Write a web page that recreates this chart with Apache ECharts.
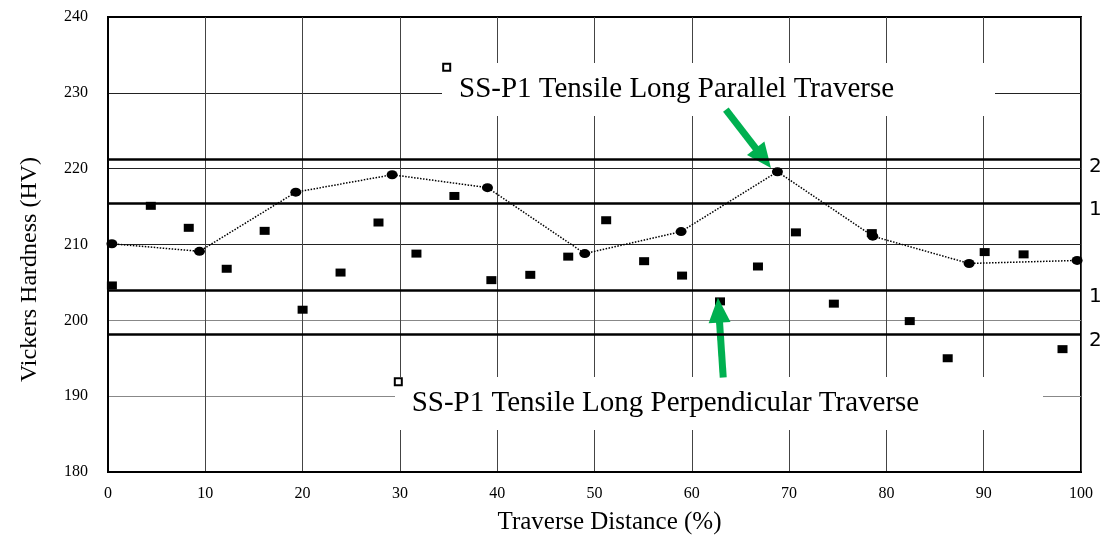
<!DOCTYPE html>
<html>
<head>
<meta charset="utf-8">
<script src="https://cdn.jsdelivr.net/npm/echarts@6/dist/echarts.min.js"></script>
<style>html,body{margin:0;padding:0;background:#fff;}#chart{width:1103px;height:540px;}</style>
</head>
<body>
<div id="chart"></div>
<script>
// Parallel traverse (circles, dotted line)
const parallelX = [0.4, 9.4, 19.3, 29.2, 39.0, 49.0, 58.9, 68.8, 78.6, 88.5, 99.6];
const parallelY = [210.1, 209.1, 216.9, 219.2, 217.5, 208.8, 211.7, 219.6, 211.1, 207.5, 207.9];
// Perpendicular traverse (squares)
const perpX = [0.4, 4.4, 8.3, 12.2, 16.1, 20.0, 23.9, 27.8, 31.7, 35.6, 39.4, 43.4, 47.3, 51.2, 55.1, 59.0, 62.9, 66.8, 70.7, 74.6, 78.5, 82.4, 86.3, 90.1, 94.1, 98.1];
const perpY = [204.6, 215.1, 212.2, 206.8, 211.8, 201.4, 206.3, 212.9, 208.8, 216.4, 205.3, 206.0, 208.4, 213.2, 207.8, 205.9, 202.5, 207.1, 211.6, 202.2, 211.5, 199.9, 195.0, 209.0, 208.7, 196.2];
// Standard deviation bands
const sigmaLevels = [221.2, 215.5, 204.0, 198.2];
const sigmaLabels = ['2', '1', '1', '2'];
// Axis ticks
const xTicks = [0, 10, 20, 30, 40, 50, 60, 70, 80, 90, 100];
const yTicks = [180, 190, 200, 210, 220, 230, 240];
// Annotation arrows (data coords): [tail, head]
const arrowParallel = [[63.5, 227.8], [67.35, 221.4]];
const arrowPerp = [[63.23, 192.46], [62.77, 201.34]];
const legendParallel = 'SS-P1 Tensile Long Parallel Traverse';
const legendPerp = 'SS-P1 Tensile Long Perpendicular Traverse';

const serif = '"Liberation Serif", "Times New Roman", serif';
const chart = echarts.init(document.getElementById('chart'));

const arrowStyle = {color: '#00B050', width: 7, type: 'solid', opacity: 1};

chart.setOption({
  animation: false,
  backgroundColor: '#fff',
  grid: {left: 108, right: 22, top: 17, bottom: 67, show: true, borderColor: '#000', borderWidth: 2, backgroundColor: 'transparent'},
  xAxis: {
    type: 'value', min: xTicks[0], max: xTicks[xTicks.length - 1], interval: 10,
    name: 'Traverse Distance (%)', nameLocation: 'middle', nameGap: 38,
    nameTextStyle: {fontFamily: serif, fontSize: 25, color: '#000', padding: [0, 0, 0, 30]},
    axisLine: {show: true, lineStyle: {color: '#000', width: 2}},
    axisTick: {show: false},
    axisLabel: {fontFamily: serif, fontSize: 16, color: '#000', margin: 14},
    splitLine: {show: true, lineStyle: {color: '#444', width: 1}}
  },
  yAxis: {
    type: 'value', min: yTicks[0], max: yTicks[yTicks.length - 1], interval: 10,
    name: 'Vickers Hardness (HV)', nameLocation: 'middle', nameRotate: 90, nameGap: 66,
    nameTextStyle: {fontFamily: serif, fontSize: 24, color: '#000', padding: [0, 50, 0, 0]},
    axisLine: {show: true, lineStyle: {color: '#000', width: 2}},
    axisTick: {show: false},
    axisLabel: {fontFamily: serif, fontSize: 16, color: '#000', margin: 20},
    splitLine: {show: true, lineStyle: {color: ['#000', '#888', '#888', '#222', '#222', '#222', '#000'], width: 1}}
  },
  series: [
    {
      name: legendParallel,
      type: 'line',
      data: parallelX.map((x, i) => [x, parallelY[i]]),
      symbol: 'circle', symbolSize: [11, 9],
      itemStyle: {color: '#000', opacity: 1},
      lineStyle: {color: '#000', width: 1.5, type: 'dotted'},
      z: 3,
      markLine: {
        silent: true, animation: false,
        symbol: ['none', 'triangle'],
        symbolSize: [22, 25],
        label: {show: false},
        itemStyle: {color: '#00B050'},
        lineStyle: arrowStyle,
        data: [
          [{coord: arrowParallel[0]}, {coord: arrowParallel[1]}],
          [{coord: arrowPerp[0]}, {coord: arrowPerp[1]}]
        ]
      }
    },
    {
      name: legendPerp,
      type: 'scatter',
      data: perpX.map((x, i) => [x, perpY[i]]),
      symbol: 'rect', symbolSize: [10, 8],
      itemStyle: {color: '#000', opacity: 1},
      z: 3,
      markLine: {
        silent: true, animation: false,
        symbol: ['none', 'none'],
        lineStyle: {color: '#000', width: 2.5, type: 'solid'},
        label: {show: true, position: 'end', distance: 8, color: '#000', fontFamily: '"DejaVu Sans", sans-serif', fontSize: 20, verticalAlign: 'top', lineHeight: 14},
        data: sigmaLevels.map((v, i) => ({yAxis: v, label: {formatter: sigmaLabels[i]}}))
      }
    }
  ],
  graphic: [
    {type: 'rect', z: 1, shape: {x: 442, y: 63, width: 553, height: 53}, style: {fill: '#fff'}},
    {type: 'rect', z: 1, shape: {x: 443.2, y: 63.8, width: 7, height: 7}, style: {fill: '#fff', stroke: '#000', lineWidth: 2}},
    {type: 'text', z: 1, x: 459, y: 89, style: {text: legendParallel, font: '29px ' + serif, fill: '#000', verticalAlign: 'middle', textAlign: 'left'}},
    {type: 'rect', z: 1, shape: {x: 395, y: 377, width: 648, height: 53}, style: {fill: '#fff'}},
    {type: 'rect', z: 1, shape: {x: 394.8, y: 378.2, width: 7, height: 7}, style: {fill: '#fff', stroke: '#000', lineWidth: 2}},
    {type: 'text', z: 1, x: 411.7, y: 403, style: {text: legendPerp, font: '29px ' + serif, fill: '#000', verticalAlign: 'middle', textAlign: 'left'}}
  ]
});
</script>
</body>
</html>
